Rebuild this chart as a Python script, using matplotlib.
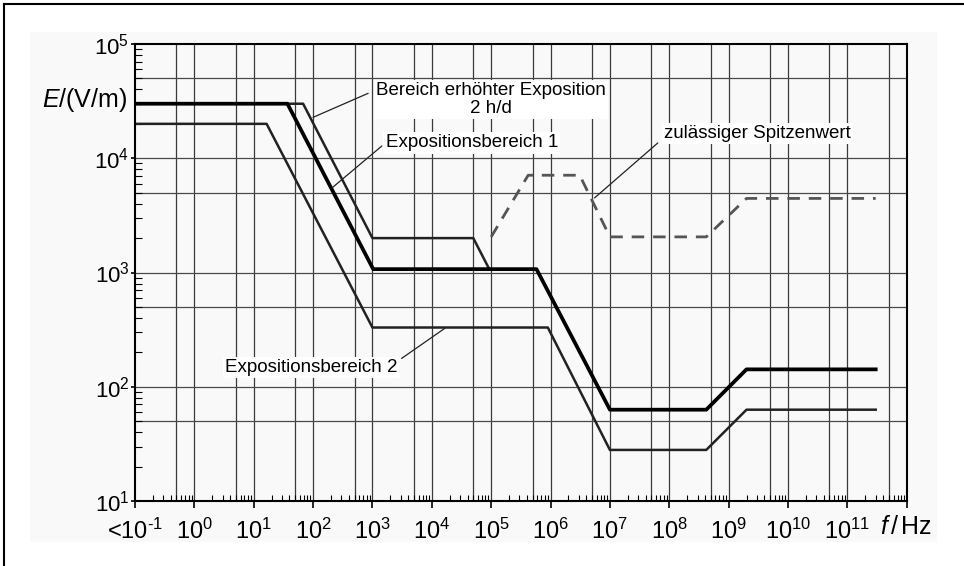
import numpy as np
import matplotlib
matplotlib.use('Agg')
import matplotlib.pyplot as plt
from matplotlib.patches import Rectangle
from matplotlib.lines import Line2D
from matplotlib.ticker import FixedLocator, FixedFormatter, LogLocator, NullFormatter

plt.rcParams['font.family'] = ['Liberation Sans', 'DejaVu Sans']
plt.rcParams['mathtext.fontset'] = 'custom'
plt.rcParams['mathtext.rm'] = 'Liberation Sans'
plt.rcParams['mathtext.it'] = 'Liberation Sans:italic'

# corner points of the limit curves: frequency in Hz, field strength in V/m
f_ber1 = [1e-1, 37, 1.03e3, 5.8e5, 1e7, 4.2e8, 2e9, 3e11]
e_ber1 = [3e4, 3e4, 1.07e3, 1.07e3, 63, 63, 142, 142]

f_2hd = [1e-1, 68, 1e3, 5e4, 9.3e4]
e_2hd = [3e4, 3e4, 2e3, 2e3, 1.07e3]

f_ber2 = [1e-1, 16.5, 1e3, 9e5, 1e7, 4.2e8, 2e9, 3e11]
e_ber2 = [2e4, 2e4, 330, 330, 28, 28, 63, 63]

f_peak = [1e5, 4.2e5, 3.1e6, 1e7, 4.2e8, 2e9, 3e11]
e_peak = [2.05e3, 7.1e3, 7.1e3, 2.05e3, 2.05e3, 4.45e3, 4.45e3]

x_exp = list(range(-1, 13))
x_labels = [r'<$10^{\text{-}1}$'] + [f'$10^{{{n}}}$' for n in range(0, 12)] + ['']
y_exp = [1, 2, 3, 4, 5]
y_labels = [f'$10^{{{n}}}$' for n in y_exp]

fig = plt.figure(figsize=(9.64, 5.66), dpi=100)
fig.patches.append(Rectangle((0.0311, 0.0429), 0.9409, 0.9005, transform=fig.transFigure,
                             facecolor='#f9f9f9', edgecolor='none', zorder=-10))
fig.add_artist(Line2D([0.004, 1.0], [0.993, 0.993], color='black', lw=1.5))
fig.add_artist(Line2D([0.004, 0.004], [0.0, 0.993], color='black', lw=1.5))

ax = fig.add_axes([0.1400, 0.1148, 0.8006, 0.8075], zorder=1)
ax.set_facecolor('none')
ax.set_xscale('log')
ax.set_yscale('log')
ax.set_xlim(1e-1, 1e12)
ax.set_ylim(1e1, 1e5)

# grid at 1 and 5 times each decade
for n in range(-1, 12):
    for m in (1, 5):
        v = m * 10.0 ** n
        if 1e-1 < v < 1e12:
            ax.axvline(v, color='#3a3a3a', lw=0.9, zorder=1)
for n in range(1, 5):
    for m in (1, 5):
        v = m * 10.0 ** n
        if 1e1 < v < 1e5:
            ax.axhline(v, color='#4a4a4a', lw=0.9, zorder=1)

ax.plot(f_ber2, e_ber2, color='#222222', lw=1.8, zorder=3)
ax.plot(f_2hd, e_2hd, color='#222222', lw=1.8, zorder=3)
ax.plot(f_ber1, e_ber1, color='black', lw=2.7, zorder=4)
ax.plot(f_peak, e_peak, color='#555555', lw=2.0, dashes=(4.5, 3.2), zorder=3)

box = dict(facecolor='white', edgecolor='none', pad=1.5)
lead = dict(arrowstyle='-', color='#222222', lw=0.9, shrinkA=0, shrinkB=0)
ax.text(1e5, 3.27e4, 'Bereich erhöhter Exposition\n2 h/d', ha='center', va='center',
        fontsize=13.5, linespacing=1.1, bbox=box, zorder=5)
ax.annotate('', xy=(100, 2.28e4), xytext=(847, 3.7e4), arrowprops=lead, zorder=5)
ax.text(4.7e4, 1.36e4, 'Expositionsbereich 1', ha='center', va='center',
        fontsize=13.5, bbox=box, zorder=5)
ax.annotate('', xy=(205, 5460), xytext=(1440, 1.28e4), arrowprops=lead, zorder=5)
ax.text(3.07e9, 1.66e4, 'zulässiger Spitzenwert', ha='center', va='center',
        fontsize=13.5, bbox=box, zorder=5)
ax.annotate('', xy=(5.5e6, 4490), xytext=(6.4e7, 1.36e4), arrowprops=lead, zorder=5)
ax.text(92, 148, 'Expositionsbereich 2', ha='center', va='center',
        fontsize=13.5, bbox=box, zorder=5)
ax.annotate('', xy=(1.66e4, 325), xytext=(3100, 177), arrowprops=lead, zorder=5)

ax.xaxis.set_major_locator(FixedLocator([10.0 ** n for n in x_exp]))
ax.xaxis.set_major_formatter(FixedFormatter(x_labels))
ax.xaxis.set_minor_locator(LogLocator(base=10, subs=np.arange(2, 10), numticks=100))
ax.xaxis.set_minor_formatter(NullFormatter())
ax.yaxis.set_major_locator(FixedLocator([10.0 ** n for n in y_exp]))
ax.yaxis.set_major_formatter(FixedFormatter(y_labels))
ax.yaxis.set_minor_locator(LogLocator(base=10, subs=np.arange(2, 10), numticks=100))
ax.yaxis.set_minor_formatter(NullFormatter())

ax.tick_params(axis='x', which='major', direction='out', length=5, width=1.2, labelsize=17, pad=8)
ax.tick_params(axis='x', which='minor', direction='in', length=4, width=0.8)
ax.tick_params(axis='y', which='major', direction='out', length=3, width=1.2, labelsize=16, pad=1)
ax.tick_params(axis='y', which='minor', direction='in', length=5, width=0.8)

for s in ax.spines.values():
    s.set_linewidth(1.5)
    s.set_zorder(6)

fig.text(0.1317, 0.8233, r'$E$/(V/m)', ha='right', va='center', fontsize=18)
fig.text(0.913, 0.069, r'$f\,$/$\,$Hz', ha='left', va='center', fontsize=18)

fig.savefig('out.png', dpi=100)
